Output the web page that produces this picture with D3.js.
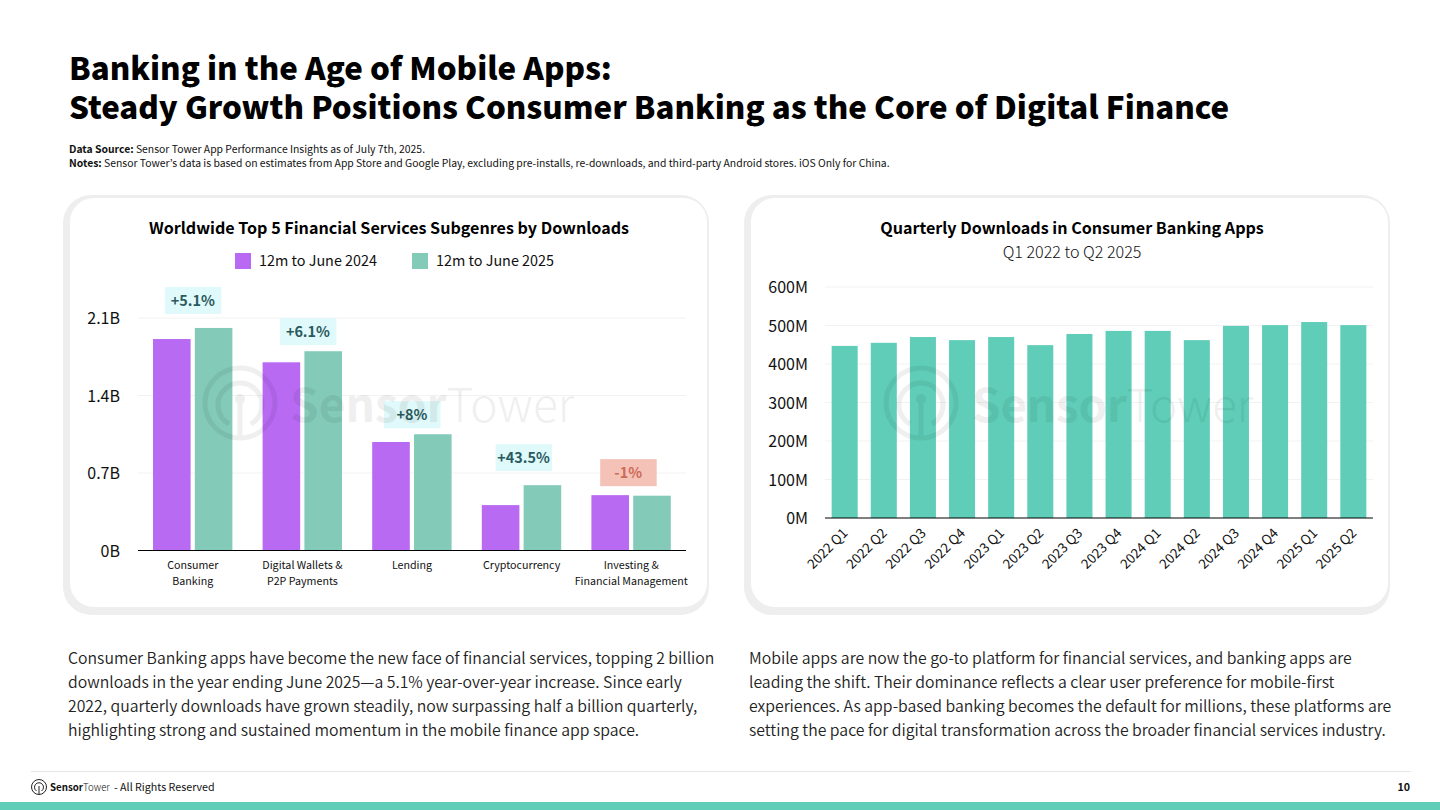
<!DOCTYPE html>
<html>
<head>
<meta charset="utf-8">
<script src="https://cdn.jsdelivr.net/npm/d3@7/dist/d3.min.js"></script>
<style>
  html, body { margin: 0; padding: 0; background: #fff; }
  svg { display: block; }
  text { font-family: "Noto Sans CJK KR", "Noto Sans", sans-serif; fill: #111; }
</style>
</head>
<body>
<svg id="slide" width="1440" height="810"></svg>
<script>
// Left chart data (billions of downloads)
const subgenres = [
    ['Consumer', 'Banking'],
    ['Digital Wallets &', 'P2P Payments'],
    ['Lending'],
    ['Cryptocurrency'],
    ['Investing &', 'Financial Management']
];
const downloads2024 = [1.91, 1.70, 0.98, 0.41, 0.50];
const downloads2025 = [2.01, 1.80, 1.05, 0.59, 0.495];
const changeLabels = ['+5.1%', '+6.1%', '+8%', '+43.5%', '-1%'];
const seriesNames = ['12m to June 2024', '12m to June 2025'];
const leftTicks = [0, 0.7, 1.4, 2.1];

// Right chart data (millions of downloads)
const quarters = ['2022 Q1', '2022 Q2', '2022 Q3', '2022 Q4', '2023 Q1', '2023 Q2', '2023 Q3',
    '2023 Q4', '2024 Q1', '2024 Q2', '2024 Q3', '2024 Q4', '2025 Q1', '2025 Q2'];
const quarterlyDownloads = [447, 455, 470, 462, 470, 449, 478, 486, 486, 462, 499, 501, 509, 501];
const rightTicks = [0, 100, 200, 300, 400, 500, 600];

const titleLines = ['Banking in the Age of Mobile Apps:',
    'Steady Growth Positions Consumer Banking as the Core of Digital Finance'];
const leftParagraph = [
    'Consumer Banking apps have become the new face of financial services, topping 2 billion',
    'downloads in the year ending June 2025\u2014a 5.1% year-over-year increase. Since early',
    '2022, quarterly downloads have grown steadily, now surpassing half a billion quarterly,',
    'highlighting strong and sustained momentum in the mobile finance app space.'
];
const rightParagraph = [
    'Mobile apps are now the go-to platform for financial services, and banking apps are',
    'leading the shift. Their dominance reflects a clear user preference for mobile-first',
    'experiences. As app-based banking becomes the default for millions, these platforms are',
    'setting the pace for digital transformation across the broader financial services industry.'
];

const PURPLE = '#b86af3';
const GREEN = '#83cab9';
const TEAL = '#5fcdb8';

const svg = d3.select('#slide');

function addText(parent, x, y, str, size, opts = {}) {
    return parent.append('text')
        .attr('x', x)
        .attr('y', y)
        .attr('font-size', size)
        .attr('font-weight', opts.weight || 400)
        .attr('text-anchor', opts.anchor || 'start')
        .style('fill', opts.fill || '#111')
        .text(str);
}

// Card with the thick grey edge on the left and bottom
function drawCard(x0, x1) {
    svg.append('rect').attr('x', x0).attr('y', 195).attr('width', x1 - x0).attr('height', 420)
        .attr('rx', 28).attr('fill', '#eeeeee');
    svg.append('rect').attr('x', x0 + 7).attr('y', 198).attr('width', x1 - x0 - 9).attr('height', 409)
        .attr('rx', 24).attr('fill', '#fff');
}

function drawWatermark(cx, textX, textSize) {
    const g = svg.append('g').attr('opacity', 0.06);
    g.append('circle').attr('cx', cx).attr('cy', 403).attr('r', 35)
        .attr('fill', 'none').attr('stroke', '#000').attr('stroke-width', 5);
    g.append('path')
        .attr('d', `M${cx - 11} 424 A22 22 0 1 1 ${cx + 11} 424`)
        .attr('fill', 'none').attr('stroke', '#000').attr('stroke-width', 5);
    g.append('circle').attr('cx', cx).attr('cy', 399).attr('r', 5).attr('fill', '#000');
    g.append('rect').attr('x', cx - 2.5).attr('y', 399).attr('width', 5).attr('height', 38).attr('fill', '#000');
    const t = addText(g, textX, 422, 'Sensor', textSize, { weight: 700, fill: '#000' });
    t.append('tspan').attr('font-weight', 300).text('Tower');
}

// Header
titleLines.forEach((line, i) => {
    addText(svg, 69, 79.5 + i * 39, line, 31.26, { weight: 900, fill: '#000' });
});
const source = addText(svg, 69, 153, 'Data Source:', 10.4, { weight: 700 });
source.append('tspan').attr('font-weight', 400).text(' Sensor Tower App Performance Insights as of July 7th, 2025.');
const notes = addText(svg, 69, 167, 'Notes:', 10.4, { weight: 700 });
notes.append('tspan').attr('font-weight', 400)
    .text(' Sensor Tower\u2019s data is based on estimates from App Store and Google Play, excluding pre-installs, re-downloads, and third-party Android stores. iOS Only for China.');

drawCard(63, 709);
drawCard(744, 1390);

// Left chart
addText(svg, 389, 233.5, 'Worldwide Top 5 Financial Services Subgenres by Downloads', 16.1, { weight: 700, anchor: 'middle', fill: '#000' });

[[235, PURPLE, 259], [412, GREEN, 436]].forEach((item, i) => {
    svg.append('rect').attr('x', item[0]).attr('y', 253).attr('width', 16).attr('height', 16).attr('fill', item[1]);
    addText(svg, item[2], 266, seriesNames[i], 14.4);
});

const xLeft = d3.scaleBand().domain(d3.range(subgenres.length)).range([138, 686]);
const yLeft = d3.scaleLinear().domain([0, 2.1]).range([550.5, 318]);

svg.append('g').selectAll('line').data(leftTicks.slice(1)).join('line')
    .attr('x1', 138).attr('x2', 686)
    .attr('y1', d => yLeft(d)).attr('y2', d => yLeft(d))
    .attr('stroke', '#f2f2f2');

const leftAxis = d3.axisLeft(yLeft).tickValues(leftTicks).tickSize(0).tickPadding(0)
    .tickFormat(d => d + 'B');
svg.append('g').attr('transform', 'translate(120,0.5)').call(leftAxis)
    .call(g => g.select('.domain').remove())
    .selectAll('text').attr('font-size', 16).attr('font-family', '"Noto Sans CJK KR"');

const barWidth = 37.6;
[[downloads2024, PURPLE, -39.8], [downloads2025, GREEN, 2]].forEach(([values, color, offset]) => {
    svg.append('g').selectAll('rect').data(values).join('rect')
        .attr('x', (d, i) => xLeft(i) + xLeft.bandwidth() / 2 + offset)
        .attr('y', d => yLeft(d))
        .attr('width', barWidth)
        .attr('height', d => yLeft(0) - yLeft(d))
        .attr('fill', color);
});

svg.append('line').attr('x1', 138).attr('x2', 686).attr('y1', 550.5).attr('y2', 550.5)
    .attr('stroke', '#000').attr('stroke-width', 1);

// Change badges sit above the taller bar, nudged by hand as in the original layout
const badgeDx = [0, 5.5, 0, 2, -3];
const badgeGap = [14, 6, 6, 14, 9];
changeLabels.forEach((label, i) => {
    const cx = xLeft(i) + xLeft.bandwidth() / 2 + badgeDx[i];
    const bottom = yLeft(Math.max(downloads2024[i], downloads2025[i])) - badgeGap[i];
    const negative = label.startsWith('-');
    svg.append('rect').attr('x', cx - 28).attr('y', bottom - 27).attr('width', 56.5).attr('height', 27)
        .attr('fill', negative ? '#f5c2b8' : '#e0f9fa');
    addText(svg, cx, bottom - 8, label, 14.4, { weight: 700, anchor: 'middle', fill: negative ? '#cd6a58' : '#2a5a60' });
});

subgenres.forEach((lines, i) => {
    lines.forEach((line, j) => {
        addText(svg, xLeft(i) + xLeft.bandwidth() / 2, 569 + j * 16, line, 10.7, { anchor: 'middle' });
    });
});

// Right chart
addText(svg, 1072, 233.5, 'Quarterly Downloads in Consumer Banking Apps', 16.1, { weight: 700, anchor: 'middle', fill: '#000' });
addText(svg, 1072, 258, 'Q1 2022 to Q2 2025', 16.1, { anchor: 'middle' }).attr('font-weight', 300);

const xRight = d3.scaleBand().domain(quarters).range([825, 1373]).paddingInner(0.335).paddingOuter(0.17);
const yRight = d3.scaleLinear().domain([0, 600]).range([518, 287]);

svg.append('g').selectAll('line').data(rightTicks.slice(1)).join('line')
    .attr('x1', 825).attr('x2', 1373)
    .attr('y1', d => yRight(d)).attr('y2', d => yRight(d))
    .attr('stroke', '#f2f2f2');

const rightAxis = d3.axisLeft(yRight).tickValues(rightTicks).tickSize(0).tickPadding(0)
    .tickFormat(d => d + 'M');
svg.append('g').attr('transform', 'translate(808,0.5)').call(rightAxis)
    .call(g => g.select('.domain').remove())
    .selectAll('text').attr('font-size', 16).attr('font-family', '"Noto Sans CJK KR"');

svg.append('g').selectAll('rect').data(quarterlyDownloads).join('rect')
    .attr('x', (d, i) => xRight(quarters[i]))
    .attr('y', d => yRight(d))
    .attr('width', xRight.bandwidth())
    .attr('height', d => yRight(0) - yRight(d))
    .attr('fill', TEAL);

svg.append('line').attr('x1', 825).attr('x2', 1373).attr('y1', 518).attr('y2', 518)
    .attr('stroke', '#000').attr('stroke-width', 1);

quarters.forEach(q => {
    const cx = xRight(q) + xRight.bandwidth() / 2;
    addText(svg, cx + 4, 534, q, 13.5, { anchor: 'end' })
        .attr('transform', `rotate(-45 ${cx + 4} 534)`);
});

drawWatermark(240, 290, 46);
drawWatermark(921, 972, 45.5);

// Body copy
leftParagraph.forEach((line, i) => addText(svg, 68, 663.5 + i * 24, line, 15.8, { fill: '#222', weight: 350 }));
rightParagraph.forEach((line, i) => addText(svg, 749, 663.5 + i * 24, line, 15.8, { fill: '#222', weight: 350 }));

// Footer
svg.append('line').attr('x1', 31).attr('x2', 1411).attr('y1', 771.5).attr('y2', 771.5).attr('stroke', '#e6e6e6');
svg.append('rect').attr('x', 0).attr('y', 802).attr('width', 1440).attr('height', 8).attr('fill', TEAL);
const logo = svg.append('g');
logo.append('circle').attr('cx', 39).attr('cy', 787).attr('r', 7.5).attr('fill', 'none').attr('stroke', '#222').attr('stroke-width', 1);
logo.append('path').attr('d', 'M36.5 791 A4.5 4.5 0 1 1 41.5 791').attr('fill', 'none').attr('stroke', '#222').attr('stroke-width', 1);
logo.append('rect').attr('x', 38.5).attr('y', 786).attr('width', 1).attr('height', 8).attr('fill', '#222');
const brand = addText(svg, 50, 791, 'Sensor', 9.7, { weight: 700 });
brand.append('tspan').attr('font-weight', 300).text('Tower');
addText(svg, 114, 791, '- All Rights Reserved', 10.7);
addText(svg, 1410, 791, '10', 10.7, { weight: 700, anchor: 'end' });
</script>
</body>
</html>
